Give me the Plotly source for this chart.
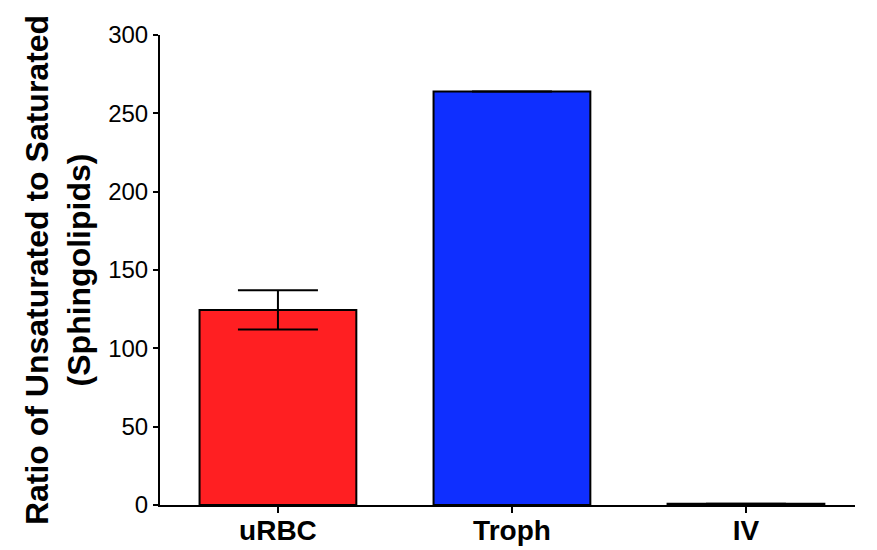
import plotly.graph_objects as go

categories = ["uRBC", "Troph", "IV"]
values = [124.5, 264.0, 0.8]
errors = [12.5, 0.0, 0.0]
colors = ["#FF1F22", "#0F2FFF", "#FFFFFF"]
y_ticks = [0, 50, 100, 150, 200, 250, 300]

FONT = "Liberation Sans, Arial, Helvetica, sans-serif"

fig = go.Figure()
fig.add_trace(go.Bar(
    x=categories, y=values,
    marker=dict(color=colors, line=dict(color="black", width=2)),
    width=0.67,
    error_y=dict(type="data", array=errors, visible=True, color="black",
                 thickness=2, width=40),
))

fig.update_layout(
    width=877, height=550,
    margin=dict(l=152, r=30, t=27, b=53),
    plot_bgcolor="white", paper_bgcolor="white",
    showlegend=False,
    font=dict(family=FONT, color="black"),
)
fig.update_xaxes(
    range=[-0.504, 2.466], automargin=False,
    showline=True, linecolor="black", linewidth=2,
    ticks="outside", ticklen=6, tickwidth=2, tickcolor="black",
    tickfont=dict(size=28, family=FONT, weight="bold"),
    ticklabelstandoff=-7,
    showgrid=False, zeroline=False,
)
fig.update_yaxes(
    range=[0, 300], tickvals=y_ticks, automargin=False,
    showline=True, linecolor="black", linewidth=2,
    ticks="outside", ticklen=5, tickwidth=2, tickcolor="black",
    tickfont=dict(size=24),
    showgrid=False, zeroline=False,
    title=dict(text="<b>Ratio of Unsaturated to Saturated<br>(Sphingolipids)</b>",
               font=dict(size=32), standoff=8),
)

fig.write_html("out.html")
